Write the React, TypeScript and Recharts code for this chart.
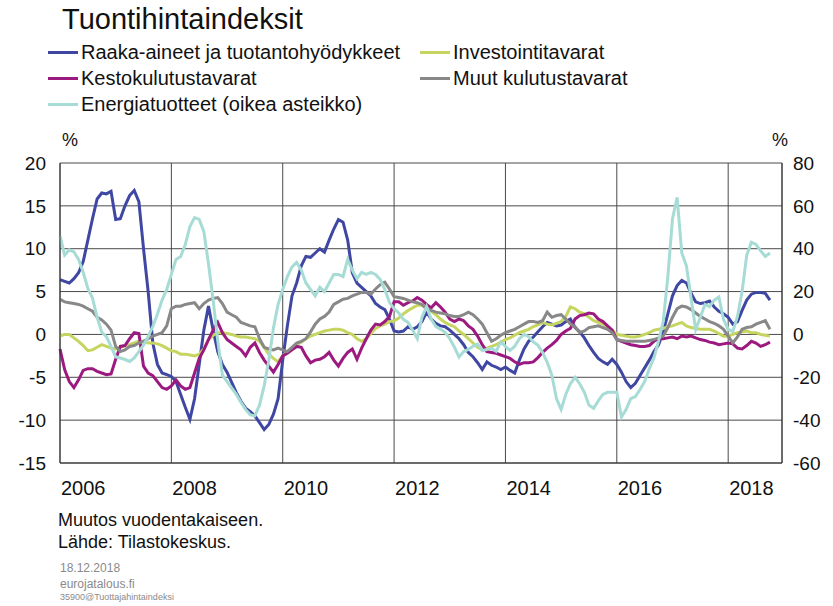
import { LineChart, Line, XAxis, YAxis, CartesianGrid } from 'recharts';

// kuukausittaiset arvot tammikuu 2006 - lokakuu 2018, muutos vuodentakaiseen %
const raakaAineet = [
  6.4, 6.2, 6.0, 6.5, 7.2, 8.5, 11, 13.5, 15.8, 16.5, 16.4, 16.7,
  13.4, 13.5, 15.0, 16.2, 16.8, 15.5, 10, 5, -1, -3.5, -4.5, -4.7,
  -4.9, -5.5, -7, -8.5, -9.9, -7.5, -3.5, 0.5, 3.3, 0.5, -2, -3.5,
  -4.4, -5.6, -6.8, -7.8, -8.6, -9.0, -9.5, -10.3, -11.1, -10.5, -9.3, -7.5,
  -3, 1, 4.5, 6, 8, 9.1, 9, 9.5, 10, 9.6, 11, 12.3,
  13.4, 13.1, 11, 7.2, 6, 5.5, 5, 4.5, 3.6, 3.2, 2.9, 1.8,
  0.4, 0.3, 0.4, 0.9, 0.6, 0.9, 1.5, 2.6, 1.8, 1.3, 1.0, 0.9,
  0.5, 0, -0.5, -1.2, -2.1, -2.6, -3.3, -4.1, -3.2, -3.6, -3.8, -4.1,
  -3.8, -4.2, -4.5, -3, -1.7, -0.8, -0.3, 0.3, 0.9, 1.4, 1.2, 1.0,
  1.1, 1.5, 1.8, 0.8, 0.3, -0.4, -1.3, -2.1, -2.8, -3.2, -3.5, -2.9,
  -3.5, -4.4, -5.5, -6.2, -5.7, -4.8, -3.9, -3, -2, -1.2, 0.3, 2.4,
  4.5, 5.7, 6.3, 6, 4.8, 3.8, 3.6, 3.7, 3.9, 3.2, 2.7, 2.4,
  2.0, 1.2, 1.5, 2.8, 4, 4.7, 4.9, 4.9, 4.8, 4.0,
];

const investointi = [
  -0.2, 0, 0, -0.4, -0.8, -1.3, -1.9, -1.8, -1.5, -1.2, -1.4, -1.6,
  -1.7, -1.5, -1.3, -1.2, -1.0, -0.8, -0.8, -1.0, -1.0, -1.1, -1.3, -1.6,
  -1.9, -2.0, -2.3, -2.3, -2.4, -2.5, -2.3, -1.7, -0.6, -0.1, 0.2, 0.2,
  0.1, 0, -0.2, -0.3, -0.3, -0.4, -0.5, -0.8, -1.5, -2.3, -2.8, -3.2,
  -2.5, -2.0, -1.6, -1.2, -0.9, -0.5, -0.2, 0, 0.2, 0.4, 0.5, 0.6,
  0.6, 0.5, 0.2, 0, -0.5, -0.8, -0.5, 0.1, 0.7, 1.0, 1.2, 1.5,
  1.6, 1.9, 2.4, 2.8, 3.1, 3.4, 3.4, 3.0, 2.7, 2.3, 1.8, 1.4,
  1.1, 0.9, 0.4, 0, -0.5, -1.0, -1.5, -1.8, -1.6, -1.4, -1.2, -0.9,
  -0.6, -0.4, -0.1, 0.2, 0.4, 0.6, 0.9, 1.1, 1.4, 1.2, 1.1, 1.3,
  1.5, 2.1, 3.2, 3.0, 2.6, 2.4, 2.0, 1.6, 1.4, 1.2, 0.8, 0.5,
  0, -0.1, -0.2, -0.3, -0.3, -0.2, 0, 0.2, 0.5, 0.6, 0.7, 0.9,
  1.0, 1.2, 1.4, 1.0, 0.8, 0.7, 0.6, 0.6, 0.6, 0.4, 0.1, -0.2,
  -0.2, 0, 0.2, 0.3, 0.4, 0.2, 0.2, 0, -0.1, -0.2,
];

const kestokulutus = [
  -1.7, -4.1, -5.5, -6.2, -5.3, -4.2, -4.0, -4.0, -4.3, -4.5, -4.7, -4.6,
  -2.9, -1.4, -1.3, -0.5, 0.2, 0.1, -3.7, -4.5, -4.8, -5.5, -6.2, -6.4,
  -6.0, -5.3, -6.0, -6.4, -6.2, -4.5, -2.8, -1.8, -0.6, 0.5, 1.4, 0.2,
  -0.6, -1.0, -1.4, -1.8, -2.5, -1.5, -1.0, -2.1, -3.0, -3.7, -4.4, -3.5,
  -2.5, -2.2, -1.8, -1.4, -1.5, -2.5, -3.3, -3.0, -2.9, -2.6, -2.1, -3.0,
  -3.7, -2.8, -2.1, -1.7, -2.9, -1.6, -0.5, 0.5, 1.2, 1.1, 1.5, 2.1,
  3.8, 3.8, 3.4, 3.7, 3.9, 4.3, 4.0, 3.5, 3.1, 3.7, 3.2, 2.6,
  1.8, 1.5, 1.8, 1.6, 1.0, 0.6, -0.2, -1.2, -2.0, -2.1, -2.2, -2.4,
  -2.6, -2.8, -3.2, -3.5, -3.3, -3.3, -3.2, -2.7, -2.1, -1.6, -1.2, -0.7,
  0, 0.4, 0.7, 1.8, 2.2, 2.3, 2.5, 2.4, 1.8, 1.5, 1.0, 0.5,
  -0.6, -0.8, -1.0, -1.2, -1.3, -1.4, -1.4, -1.3, -0.8, -0.5, -0.5, -0.4,
  -0.3, -0.5, -0.2, -0.3, -0.2, -0.4, -0.6, -0.7, -0.9, -1.0, -1.2, -1.1,
  -1.0, -1.1, -1.6, -1.7, -1.3, -0.8, -1.0, -1.4, -1.2, -0.9,
];

const muutKulutus = [
  4.1, 3.8, 3.7, 3.6, 3.5, 3.3, 3.0, 2.7, 2.0, 1.7, 1.2, 0.5,
  -1.4, -2.0, -1.8, -1.4, -1.3, -1.0, -0.8, -0.5, -0.2, 0, 0.2, 1.0,
  3.0, 3.3, 3.3, 3.5, 3.6, 3.7, 3.0, 3.6, 4.0, 4.2, 4.3, 3.6,
  2.6, 2.3, 2.0, 1.4, 1.2, 1.0, 0.9, -0.5, -1.5, -1.7, -1.8, -1.6,
  -1.8, -2.0, -1.5, -1.0, -0.8, -0.5, 0.3, 1.2, 1.8, 2.1, 2.6, 3.5,
  3.8, 4.1, 4.2, 4.5, 4.7, 4.9, 4.9, 4.7, 5.3, 5.8, 6.1, 5.3,
  4.4, 4.3, 4.2, 4.0, 3.8, 3.7, 3.5, 3.0, 2.8, 2.6, 2.5, 2.4,
  2.2, 2.1, 2.1, 2.3, 2.6, 2.3, 1.8, 1.2, 0.2, -0.8, -0.5, -0.1,
  0.2, 0.4, 0.6, 0.9, 1.2, 1.5, 1.5, 1.4, 1.6, 2.6, 2.0, 2.2,
  2.3, 1.8, 1.2, 0.9, 0.2, 0.4, 0.8, 0.9, 1.0, 0.8, 0.6, 0.2,
  -0.6, -0.7, -0.8, -0.8, -0.8, -0.8, -0.8, -0.7, -0.6, -0.4, -0.2, 0.8,
  2.0, 3.0, 3.3, 3.2, 2.9, 2.5, 2.1, 1.8, 1.5, 1.3, 1.0, 0.6,
  -0.2, -1.0, -0.3, 0.6, 0.8, 0.9, 1.2, 1.4, 1.6, 0.6,
];

// oikea asteikko
const energia = [
  46, 37, 39.5, 38.5, 35, 29, 21.5, 17, 8, 1, -1, -5.6,
  -10.5, -11, -11.7, -12.6, -11, -8, -5, -1, 3.7, 9.5, 16, 21,
  28, 35, 36.4, 42, 50.4, 54.5, 53.7, 48, 33, 16, -3, -19,
  -22, -25, -28, -31.7, -35, -37.5, -38, -33, -24, -12, 3, 14,
  21, 27, 31.5, 33.6, 30, 24, 21, 18, 22, 20, 24, 28,
  28, 27, 35, 30, 26, 29, 28, 29, 28, 25.7, 21, 15,
  12, 10, 7, 5.6, 2, -2, 8, 13, 7, 3.7, 2.5, 1,
  -2, -6, -10.5, -8, -7, -5.5, -4.5, -7.5, -7, -6.5, -7.9, -3.5,
  -5.6, -7.5, -5.5, -2, 0, -1, -3.5, -5, -8.4, -13, -19, -30,
  -35, -28, -23, -20, -23, -27, -33, -34.5, -31, -28, -27, -27,
  -27, -38.5, -35, -30, -29, -25.7, -22, -16, -11, -3, 6, 27,
  54, 64, 38, 32, 17, 2.3, 8, 14, 13, 16, 17.5, 7,
  2.3, 1.4, 8.4, 20, 37, 43, 42, 39, 36.4, 38,
];

const gridMonths = [0, 24, 48, 72, 96, 120, 144];
const xTickMonths = [5, 29, 53, 77, 101, 125, 149];
const xTickLabels = ['2006', '2008', '2010', '2012', '2014', '2016', '2018'];
const leftTicks = [-15, -10, -5, 0, 5, 10, 15, 20];
const rightTicks = [-60, -40, -20, 0, 20, 40, 60, 80];
const xEnd = 155.6;

const data = raakaAineet.map((v, i) => ({
  i,
  raaka: v,
  invest: investointi[i],
  kesto: kestokulutus[i],
  muut: muutKulutus[i],
  energia: energia[i],
}));

const series = [
  { key: 'raaka', name: 'Raaka-aineet ja tuotantohyödykkeet', color: '#3f47a3', axis: 'left' },
  { key: 'invest', name: 'Investointitavarat', color: '#c6d560', axis: 'left' },
  { key: 'kesto', name: 'Kestokulutustavarat', color: '#9c1a80', axis: 'left' },
  { key: 'muut', name: 'Muut kulutustavarat', color: '#888888', axis: 'left' },
  { key: 'energia', name: 'Energiatuotteet (oikea asteikko)', color: '#a6dcd5', axis: 'right' },
];

const legendPos = [
  { left: 48, top: 41 },
  { left: 420, top: 41 },
  { left: 48, top: 67 },
  { left: 420, top: 67 },
  { left: 48, top: 93 },
];

const font = '"Liberation Sans", Arial, sans-serif';

export default function App() {
  return (
    <div style={{ position: 'absolute', left: 0, top: 0, width: 833, height: 606, background: '#fff', fontFamily: font, color: '#111' }}>
      <LineChart
        width={833}
        height={606}
        data={data}
        margin={{ top: 163, right: 0, bottom: 113, left: 0 }}
        style={{ position: 'absolute', left: 0, top: 0 }}
      >
        <CartesianGrid
          yAxisId="left"
          stroke="#4a4a4a"
          strokeWidth={1}
          verticalCoordinatesGenerator={({ xAxis, offset }: any) =>
            [...gridMonths, xEnd].map((m) =>
              xAxis && typeof xAxis.scale === 'function'
                ? xAxis.scale(m)
                : offset.left + (m / xEnd) * offset.width
            )
          }
        />
        <XAxis
          dataKey="i"
          type="number"
          domain={[0, xEnd]}
          ticks={xTickMonths}
          tickFormatter={(v: number) => xTickLabels[xTickMonths.indexOf(v)] ?? ''}
          tickLine={false}
          axisLine={{ stroke: '#333' }}
          tickSize={0}
          tickMargin={18}
          height={30}
          tick={{ fontSize: 20, fill: '#111', fontFamily: font }}
          interval={0}
        />
        <YAxis
          yAxisId="left"
          domain={[-15, 20]}
          ticks={leftTicks}
          width={60}
          tickLine={false}
          axisLine={{ stroke: '#333' }}
          tickSize={0}
          tickMargin={14}
          tick={{ fontSize: 19, fill: '#111', fontFamily: font }}
          interval={0}
        />
        <YAxis
          yAxisId="right"
          orientation="right"
          domain={[-60, 80]}
          ticks={rightTicks}
          width={51}
          tickLine={false}
          axisLine={{ stroke: '#333' }}
          tickSize={0}
          tickMargin={11}
          tick={{ fontSize: 19, fill: '#111', fontFamily: font }}
          interval={0}
        />
        {series.map((s) => (
          <Line
            key={s.key}
            yAxisId={s.axis}
            dataKey={s.key}
            name={s.name}
            type="linear"
            stroke={s.color}
            strokeWidth={3}
            dot={false}
            isAnimationActive={false}
          />
        ))}
      </LineChart>

      <div style={{ position: 'absolute', left: 62, top: 3, fontSize: 29, lineHeight: '33px' }}>Tuontihintaindeksit</div>

      {series.map((s, k) => (
        <div key={s.key} style={{ position: 'absolute', left: legendPos[k].left, top: legendPos[k].top, display: 'flex', alignItems: 'center', height: 22 }}>
          <span style={{ display: 'inline-block', width: 30, height: 3, background: s.color, marginRight: 3 }} />
          <span style={{ fontSize: 20, lineHeight: '22px' }}>{s.name}</span>
        </div>
      ))}

      <div style={{ position: 'absolute', left: 62, top: 129, fontSize: 18, lineHeight: '22px' }}>%</div>
      <div style={{ position: 'absolute', left: 772, top: 129, fontSize: 18, lineHeight: '22px' }}>%</div>

      <div style={{ position: 'absolute', left: 58, top: 509, fontSize: 18, lineHeight: '22px' }}>Muutos vuodentakaiseen.</div>
      <div style={{ position: 'absolute', left: 58, top: 531, fontSize: 18, lineHeight: '22px' }}>Lähde: Tilastokeskus.</div>
      <div style={{ position: 'absolute', left: 60, top: 561, fontSize: 12, lineHeight: '14px', color: '#8a8a8a' }}>18.12.2018</div>
      <div style={{ position: 'absolute', left: 60, top: 577, fontSize: 12, lineHeight: '14px', color: '#8a8a8a' }}>eurojatalous.fi</div>
      <div style={{ position: 'absolute', left: 60, top: 592, fontSize: 9, lineHeight: '11px', color: '#8a8a8a' }}>35900@Tuottajahintaindeksi</div>
    </div>
  );
}
